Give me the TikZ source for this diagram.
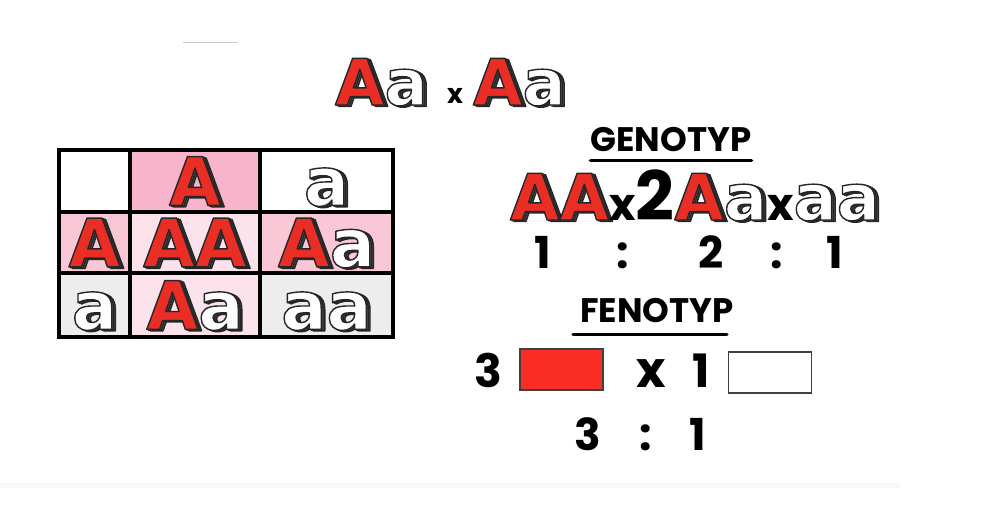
\documentclass[tikz,border=0pt]{standalone}
\usepackage{fontspec}
\setmainfont{DejaVu Sans}
\newfontfamily\headfont{Poppins}
\usetikzlibrary{
  positioning,
}
\definecolor{letterred}{RGB}{234,46,38}
\definecolor{shade}{RGB}{88,88,88}
\definecolor{boxred}{RGB}{250,46,36}
\definecolor{pinkA}{RGB}{247,180,202}
\definecolor{pinkB}{RGB}{249,199,214}
\definecolor{pinkC}{RGB}{252,226,234}
\definecolor{cellgray}{RGB}{237,237,237}
\newcommand{\letterfont}{\fontsize{64}{64}\selectfont\bfseries}
\newcommand{\cellfont}{\fontsize{67}{67}\selectfont\bfseries}
\newcommand{\crossfont}{\headfont\bfseries\fontsize{45}{45}\selectfont}
\newcommand{\twofont}{\headfont\bfseries\fontsize{68}{68}\selectfont}
% outlined glyphs: fill colour, stroke width, text
\newcommand{\strokedtext}[3]{{\color{#1}\special{pdf:literal direct 2 Tr #2 w 1 j 0.15 0.15 0.15 RG}#3\special{pdf:literal direct 0 Tr}}}
\newcommand{\solid}[2]{%
  \rlap{\hspace{3.6pt}\raisebox{-1.4pt}[0pt][0pt]{\strokedtext{shade}{1.4}{#2}}}%
  \rlap{\hspace{1.8pt}\raisebox{-0.7pt}[0pt][0pt]{\strokedtext{shade}{1.4}{#2}}}%
  \strokedtext{#1}{1.4}{#2}}
\newcommand{\bigA}{\solid{letterred}{A}}
\newcommand{\smalla}{\solid{white}{a}}
\tikzset{
  letters/.style={
    font=\letterfont,
    inner sep=0pt,
    outer sep=0pt,
    text height=46.7pt,
    text depth=0pt,
  },
  cell/.style={
    letters,
    font=\cellfont,
    text height=48.8pt,
    draw=black,
    line width=3.5pt,
    minimum width=#1,
    minimum height=62pt,
  },
  cross/.style={
    font=\headfont\bfseries\fontsize{27}{27}\selectfont,
    inner sep=0pt,
    anchor=base,
  },
  heading/.style={
    font=\headfont\bfseries\fontsize{34}{34}\selectfont,
    inner sep=0pt,
  },
  underline/.style={
    line width=3.5pt,
    line cap=round,
  },
  num/.style={
    font=\headfont\bfseries\fontsize{44}{44}\selectfont,
    inner sep=0pt,
    anchor=base,
  },
  swatch/.style={
    draw=black!75,
    line width=1.5pt,
    minimum width=83pt,
    minimum height=41pt,
    inner sep=0pt,
  },
}

\begin{document}
\begin{tikzpicture}[x=1pt, y=-1pt, node distance=0pt]
  \useasboundingbox (0,0) rectangle (984,530);

  % scan marks
  \fill[black!3] (0,483) rectangle (900,488);
  \draw[black!20, line width=1pt] (183,42) -- (238,42);

  % parents
  \node[letters, anchor=base west] (mom) at (335,105) {\bigA\smalla};
  \node[cross] (times) at (455,103) {x};
  \node[letters, anchor=base west] (dad) at (473,105) {\bigA\smalla};

  % punnett square
  \node[cell=71pt] (c11) at (94.5,181) {};
  \node[cell=130pt, fill=pinkA, right=of c11] (c12) {\bigA};
  \node[cell=133pt, right=of c12] (c13) {\smalla};
  \node[cell=71pt, minimum height=61pt, fill=pinkB, below=of c11] (c21) {\bigA};
  \node[cell=130pt, minimum height=61pt, fill=pinkC, right=of c21] (c22) {\bigA\bigA};
  \node[cell=133pt, minimum height=61pt, fill=pinkB, right=of c22] (c23) {\bigA\smalla};
  \node[cell=71pt, minimum height=64pt, fill=cellgray, below=of c21] (c31) {\smalla};
  \node[cell=130pt, minimum height=64pt, fill=pinkC, right=of c31] (c32) {\bigA\smalla};
  \node[cell=133pt, minimum height=64pt, fill=cellgray, right=of c32] (c33) {\smalla\smalla};

  % genotype
  \node[heading] (geno) at (671,140) {GENOTYP};
  \draw[underline] ([yshift=-8pt]geno.south west) -- ([yshift=-8pt]geno.south east);
  \node[letters, anchor=base west] (genes) at (510,220)
    {\bigA\bigA{\crossfont x}{\twofont 2}\bigA\smalla{\crossfont x}\smalla\smalla};
  \node[num] (g1) at (543,268) {1};
  \node[num] (g2) at (623,268) {:};
  \node[num] (g3) at (711,268) {2};
  \node[num] (g4) at (777,268) {:};
  \node[num] (g5) at (835,268) {1};

  % phenotype
  \node[heading] (feno) at (657,311) {FENOTYP};
  \draw[underline] ([shift={(-7pt,-11pt)}]feno.south west) -- ([shift={(-7pt,-11pt)}]feno.south east);
  \node[num, font=\headfont\bfseries\fontsize{46}{46}\selectfont] (n3) at (488,387) {3};
  \node[swatch, fill=boxred] (dom) at (561.5,369.5) {};
  \node[num, font=\headfont\bfseries\fontsize{50}{50}\selectfont] (times2) at (651,387) {x};
  \node[num, font=\headfont\bfseries\fontsize{46}{46}\selectfont] (n1) at (701,387) {1};
  \node[swatch, fill=white] (rec) at (770,372.5) {};
  \node[num] (f1) at (588,450) {3};
  \node[num] (f2) at (646,450) {:};
  \node[num] (f3) at (698,450) {1};
\end{tikzpicture}
\end{document}
